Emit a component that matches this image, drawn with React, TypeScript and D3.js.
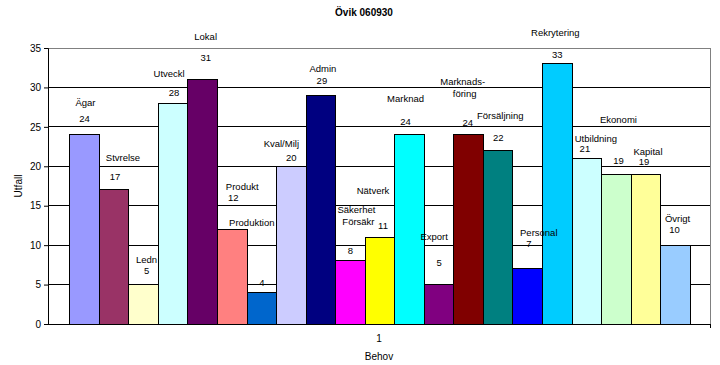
import React from 'react';
import * as d3 from 'd3';

const categories = ['Ägar', 'Stvrelse', 'Ledn', 'Utveckl', 'Lokal', 'Produkt', 'Produktion', 'Kval/Milj', 'Admin', 'Säkerhet', 'Nätverk', 'Marknad', 'Export', 'Marknadsföring', 'Försäljning', 'Personal', 'Rekrytering', 'Utbildning', 'Ekonomi', 'Kapital', 'Övrigt'];
const values = [24, 17, 5, 28, 31, 12, 4, 20, 29, 8, 11, 24, 5, 24, 22, 7, 33, 21, 19, 19, 10];
const colors = ['#9999FF', '#993366', '#FFFFCC', '#CCFFFF', '#660066', '#FF8080', '#0066CC', '#CCCCFF', '#000080', '#FF00FF', '#FFFF00', '#00FFFF', '#800080', '#800000', '#008080', '#0000FF', '#00CCFF', '#CCFFFF', '#CCFFCC', '#FFFF99', '#99CCFF'];
const yTicks = [0, 5, 10, 15, 20, 25, 30, 35];

// label text lines as shown in the chart (name lines)
const nameLines = [['Ägar'], ['Stvrelse'], ['Ledn'], ['Utveckl'], ['Lokal'], ['Produkt'], ['Produktion'], ['Kval/Milj'], ['Admin'], ['Säkerhet', 'Försäkr'], ['Nätverk'], ['Marknad'], ['Export'], ['Marknads-', 'föring'], ['Försäljning'], ['Personal'], ['Rekrytering'], ['Utbildning'], ['Ekonomi'], ['Kapital'], ['Övrigt']];

// hand-placed label offsets (px) relative to bar centre / bar top: [name dx, name dy, value dx, value dy]
const labelOffsets = [
  [1, -32, 0, -16], [9, -32, 1, -13], [3, -25, 3, -14], [-4, -30, 1, -11],
  [3, -43, 3, -22], [10, -43, 1, -32], [-10, -70, 0, -10], [-10, -23, 0, -9],
  [2, -27, 1, -15], [6, -51, 0, -10], [-7, -47, 3, -12], [-4, -36, -4, -13],
  [-5, -48, 0, -22], [-6, -53, -1, -12], [2, -35, 0, -13], [11, -36, 1, -25],
  [-2, -31, 0, -9], [9, -20, -2, -10], [2, -55, 2, -14], [2, -23, -2, -13],
  [2, -27, -1, -16],
];

const App = () => {
  const svgRef = React.useRef(null);
  const width = 720;
  const height = 365;
  const margin = { top: 48, right: 10, bottom: 41, left: 48 };

  React.useEffect(() => {
    const svg = d3.select(svgRef.current);
    svg.selectAll('*').remove();

    const x0 = margin.left;
    const x1 = width - margin.right;
    const y = d3.scaleLinear().domain([0, 35]).range([height - margin.bottom, margin.top]);

    // one category ("1"), series bars side by side with a gap on each side
    const outer = d3.scaleBand().domain(['1']).range([x0, x1]).paddingOuter(0.0333);
    const x = d3.scaleBand().domain(categories).range([outer('1') + 1, outer('1') + outer.bandwidth() + 1]).paddingInner(0).paddingOuter(0);

    const font = 'Liberation Sans, Arial, sans-serif';

    // title
    svg.append('text')
      .attr('x', 364).attr('y', 16)
      .attr('text-anchor', 'middle')
      .style('font-family', font).style('font-size', '10px').style('font-weight', 'bold')
      .text('Övik 060930');

    // gridlines
    svg.append('g')
      .selectAll('line')
      .data(yTicks.filter(t => t > 0 && t < 35))
      .join('line')
      .attr('x1', x0).attr('x2', x1)
      .attr('y1', d => y(d)).attr('y2', d => y(d))
      .attr('stroke', 'black').attr('stroke-width', 1)
      .attr('shape-rendering', 'crispEdges');

    // plot border (top/right)
    svg.append('path')
      .attr('d', `M${x0},${y(35)}H${x1}V${y(0)}`)
      .attr('fill', 'none').attr('stroke', '#808080')
      .attr('shape-rendering', 'crispEdges');

    // bars
    svg.append('g')
      .selectAll('rect')
      .data(values)
      .join('rect')
      .attr('x', (d, i) => x(categories[i]))
      .attr('y', d => y(d))
      .attr('width', x.bandwidth())
      .attr('height', d => y(0) - y(d))
      .attr('fill', (d, i) => colors[i])
      .attr('stroke', 'black').attr('stroke-width', 1)
      .attr('shape-rendering', 'crispEdges');

    // y axis
    const yAxis = svg.append('g')
      .attr('transform', `translate(${x0},0)`)
      .call(d3.axisLeft(y).tickValues(yTicks).tickSize(4).tickPadding(3));
    yAxis.selectAll('text').style('font-family', font).style('font-size', '10px').attr('fill', 'black');
    yAxis.selectAll('line').attr('stroke', 'black');
    yAxis.select('.domain').attr('stroke', 'black');

    // x axis
    svg.append('line')
      .attr('x1', x0).attr('x2', x1)
      .attr('y1', y(0)).attr('y2', y(0))
      .attr('stroke', 'black').attr('shape-rendering', 'crispEdges');
    svg.append('line')
      .attr('x1', x1).attr('x2', x1)
      .attr('y1', y(0)).attr('y2', y(0) + 4)
      .attr('stroke', 'black').attr('shape-rendering', 'crispEdges');

    svg.append('text')
      .attr('x', (x0 + x1) / 2).attr('y', y(0) + 18)
      .attr('text-anchor', 'middle')
      .style('font-family', font).style('font-size', '10px')
      .text('1');
    svg.append('text')
      .attr('x', (x0 + x1) / 2).attr('y', y(0) + 36)
      .attr('text-anchor', 'middle')
      .style('font-family', font).style('font-size', '10px')
      .text('Behov');

    // y axis title
    svg.append('text')
      .attr('transform', `translate(22,${(y(0) + y(35)) / 2}) rotate(-90)`)
      .attr('text-anchor', 'middle')
      .style('font-family', font).style('font-size', '10px')
      .text('Utfall');

    // data labels
    const labels = svg.append('g')
      .style('font-family', font).style('font-size', '9.5px');
    values.forEach((v, i) => {
      const cx = x(categories[i]) + x.bandwidth() / 2;
      const top = y(v);
      const [ndx, ndy, vdx, vdy] = labelOffsets[i];
      nameLines[i].forEach((line, k) => {
        labels.append('text')
          .attr('x', cx + ndx + (k > 0 ? 2 : 0))
          .attr('y', top + ndy + k * 12 + 3.5)
          .attr('text-anchor', 'middle')
          .text(line);
      });
      labels.append('text')
        .attr('x', cx + vdx)
        .attr('y', top + vdy + 3.5)
        .attr('text-anchor', 'middle')
        .text(v);
    });

  // eslint-disable-next-line react-hooks/exhaustive-deps
  }, []);

  return (
    <svg
      ref={svgRef}
      width={width}
      height={height}
      style={{ position: 'absolute', left: 0, top: 0, background: 'white' }}
    />
  );
};

export default App;
